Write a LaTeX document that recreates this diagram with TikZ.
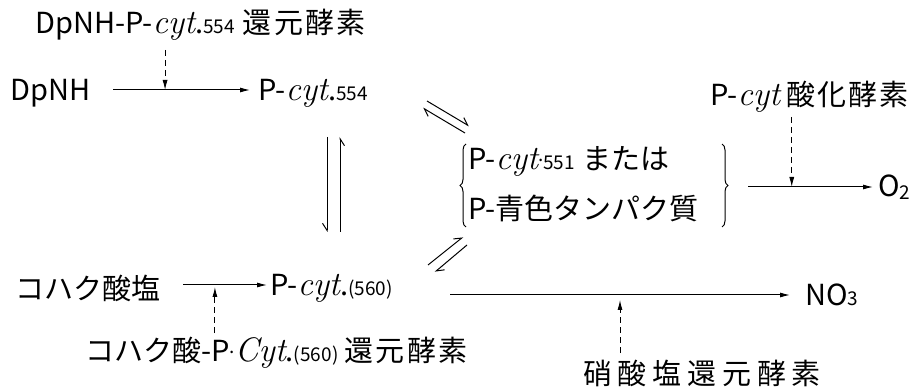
\documentclass[tikz,border=0pt]{standalone}
\usepackage{fontspec}
\setmainfont{Noto Sans CJK JP}
\newfontfamily\cyfont{Latin Modern Roman}
\newfontfamily\jpa{Noto Sans CJK JP}[LetterSpace=8]
\newfontfamily\jpb{Noto Sans CJK JP}[LetterSpace=20]
\usetikzlibrary{arrows.meta,decorations.pathreplacing}
\newcommand\cyt[1][cyt]{{\cyfont\itshape\fontsize{34}{34}\selectfont #1}}
\newcommand\sm[1]{{\fontsize{19}{20}\selectfont #1}}
\newcommand\cdt{\raisebox{8pt}{\sm{.}}}
\begin{document}
\begin{tikzpicture}[x=1pt,y=-1pt,
  lbl/.style={inner sep=0pt, anchor=west, font=\fontsize{29}{34}\selectfont},
  rx/.style={line width=1pt,-{Latex[length=10pt,width=5pt]}},
  enz/.style={line width=0.9pt,dash pattern=on 6pt off 4pt,-{Latex[length=10pt,width=5pt]}},
  hp/.style={line width=1pt,-{Straight Barb[harpoon,length=7pt,width=9pt]}},
  hps/.style={line width=1pt,-{Straight Barb[harpoon,swap,length=7pt,width=9pt]}},
  brc/.style={line width=1pt,decorate,decoration={brace,amplitude=6pt}},
]
\path[use as bounding box] (0,0) rectangle (919,390);
% top row
\node[lbl] (e1) at (35,25) {DpNH-P-\cyt.\sm{554}\hspace{8pt}{\jpa 還元酵素}};
\node[lbl] (dpnh) at (10,93) {DpNH};
\node[lbl] (p554) at (258,93) {P-\cyt.\sm{554}};
\draw[rx] ([shift={(103,-3)}]dpnh.west) -- ([shift={(-8,-3)}]p554.west)
  coordinate[pos=0.38] (m1);
\draw[enz] ([shift={(0,25)}]m1 |- e1.west) -- (m1);
% box
\node[lbl, align=left, font=\fontsize{29}{50}\selectfont] (box) at (468,184)
  {P-\cyt\cdt\sm{551}\hspace{8pt}または\\P-青色タンパク質};
\draw[brc] ([shift={(-2,43)}]box.west) -- ([shift={(-2,-40)}]box.west);
\draw[brc] ([shift={(254,-40)}]box.west) -- ([shift={(254,43)}]box.west);
\node[lbl] (o2) at (878,187) {O\raisebox{-3pt}{\sm{2}}};
\node[lbl] (ox) at (710,97) {P-\cyt\hspace{6pt}{\jpa 酸化酵素}};
\draw[rx] ([shift={(280,3)}]box.west) -- ([shift={(-5,0)}]o2.west)
  coordinate[pos=0.35] (m2);
\draw[enz] ([shift={(0,20)}]m2 |- ox.west) -- (m2);
% bottom row
\node[lbl] (succ) at (15,288) {コハク酸塩};
\node[lbl] (p560) at (270,288) {P-\cyt.\sm{(560)}};
\draw[rx] ([shift={(168,-3)}]succ.west) -- ([shift={(-3,-3)}]p560.west)
  coordinate[pos=0.38] (m3);
\node[lbl] (e3) at (85,353) {コハク酸-P\cdt\cyt[Cyt].\sm{(560)}\hspace{6pt}{\jpa 還元酵素}};
\draw[enz] ([shift={(0,-20)}]m3 |- e3.west) -- ([shift={(0,2)}]m3);
\node[lbl] (no3) at (805,295) {NO\sm{3}};
\draw[rx] ([shift={(180,7)}]p560.west) -- ([shift={(-15,0)}]no3.west)
  coordinate[pos=0.5] (m4);
\node[lbl] (e4) at (583,373) {\jpb 硝酸塩還元酵素};
\draw[enz] ([shift={(0,-20)}]m4 |- e4.west) -- ([shift={(0,5)}]m4);
% equilibria
\draw[hp] ([shift={(169,8)}]p554.west) -- ([shift={(211,33)}]p554.west);
\draw[hp] ([shift={(207,40)}]p554.west) -- ([shift={(165,15)}]p554.west);
\draw[hps] ([shift={(69,44)}]p554.west) -- ([shift={(69,139)}]p554.west);
\draw[hps] ([shift={(82,139)}]p554.west) -- ([shift={(82,44)}]p554.west);
\draw[hp] ([shift={(158,-23)}]p560.west) -- ([shift={(193,-51)}]p560.west);
\draw[hp] ([shift={(197,-43)}]p560.west) -- ([shift={(165,-16)}]p560.west);
\end{tikzpicture}
\end{document}
